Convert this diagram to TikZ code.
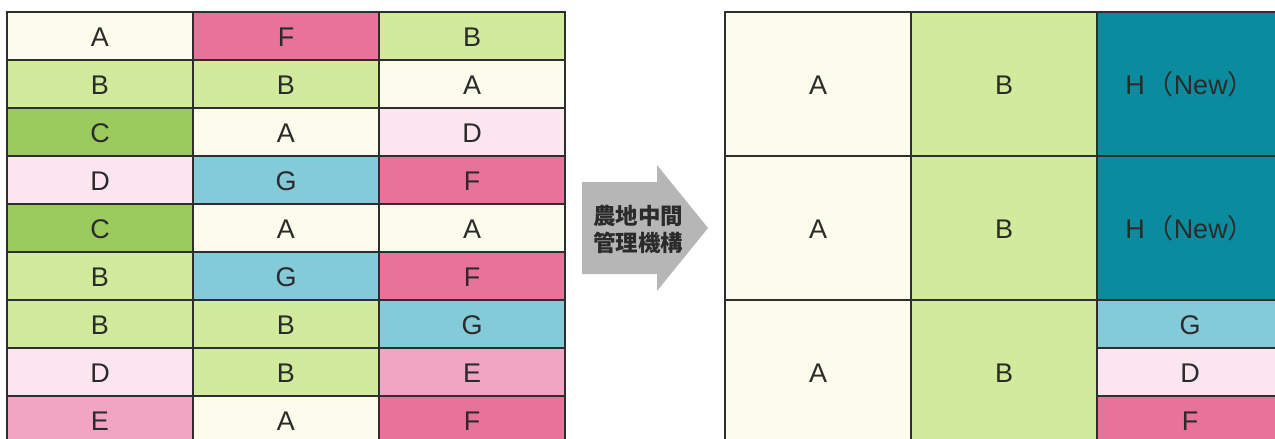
\documentclass[tikz,border=0pt]{standalone}
\usepackage{fontspec}
\setmainfont{Liberation Sans}
\newfontfamily\cjk{Noto Sans CJK JP}
\definecolor{cA}{HTML}{FBFCEC}
\definecolor{cB}{HTML}{D2EA9C}
\definecolor{cC}{HTML}{9ACB5C}
\definecolor{cD}{HTML}{FBE6F0}
\definecolor{cE}{HTML}{F2A5C3}
\definecolor{cF}{HTML}{E9729B}
\definecolor{cG}{HTML}{84CBD9}
\definecolor{cH}{HTML}{0A8C9E}
\definecolor{gridc}{HTML}{2E2E2E}
\definecolor{arrowc}{HTML}{B6B6B6}
\definecolor{txt}{HTML}{2B2B2B}
\begin{document}
\begin{tikzpicture}[x=1pt,y=-1pt,
  cell/.style={draw=gridc, line width=1.4pt, minimum width=186pt, minimum height=48pt,
    inner sep=0pt, outer sep=0pt, text=txt, text height=20pt, text depth=0pt,
    font=\fontsize{27}{27}\selectfont},
  bigcell/.style={cell, minimum height=144pt},
  arrowtext/.style={text=txt, align=center, inner sep=0pt,
    font=\cjk\bfseries\fontsize{22.5}{27}\selectfont}]
\useasboundingbox (0,0) rectangle (1275,439);
\clip (0,0) rectangle (1275,439);
% left grid
\node[cell, fill=cA] (L11) at (100,36) {A};
\node[cell, fill=cF] (L12) at (286,36) {F};
\node[cell, fill=cB] (L13) at (472,36) {B};
\node[cell, fill=cB] (L21) at (100,84) {B};
\node[cell, fill=cB] (L22) at (286,84) {B};
\node[cell, fill=cA] (L23) at (472,84) {A};
\node[cell, fill=cC] (L31) at (100,132) {C};
\node[cell, fill=cA] (L32) at (286,132) {A};
\node[cell, fill=cD] (L33) at (472,132) {D};
\node[cell, fill=cD] (L41) at (100,180) {D};
\node[cell, fill=cG] (L42) at (286,180) {G};
\node[cell, fill=cF] (L43) at (472,180) {F};
\node[cell, fill=cC] (L51) at (100,228) {C};
\node[cell, fill=cA] (L52) at (286,228) {A};
\node[cell, fill=cA] (L53) at (472,228) {A};
\node[cell, fill=cB] (L61) at (100,276) {B};
\node[cell, fill=cG] (L62) at (286,276) {G};
\node[cell, fill=cF] (L63) at (472,276) {F};
\node[cell, fill=cB] (L71) at (100,324) {B};
\node[cell, fill=cB] (L72) at (286,324) {B};
\node[cell, fill=cG] (L73) at (472,324) {G};
\node[cell, fill=cD] (L81) at (100,372) {D};
\node[cell, fill=cB] (L82) at (286,372) {B};
\node[cell, fill=cE] (L83) at (472,372) {E};
\node[cell, fill=cE] (L91) at (100,420) {E};
\node[cell, fill=cA] (L92) at (286,420) {A};
\node[cell, fill=cF] (L93) at (472,420) {F};
% arrow
\fill[arrowc] (582,182) -- (657,182) -- (657,165) -- (708,228) -- (657,291) -- (657,274) -- (582,274) -- cycle;
\node[arrowtext] (arrowlbl) at (638,229) {農地中間\\管理機構};
% right grid
\node[bigcell, fill=cA] (RA1) at (818,84) {A};
\node[bigcell, fill=cB] (RB1) at (1004,84) {B};
\node[bigcell, fill=cH] (RH1) at (1190,84) {H\hspace{2pt}{\cjk（}New{\cjk）}};
\node[bigcell, fill=cA] (RA2) at (818,228) {A};
\node[bigcell, fill=cB] (RB2) at (1004,228) {B};
\node[bigcell, fill=cH] (RH2) at (1190,228) {H\hspace{2pt}{\cjk（}New{\cjk）}};
\node[bigcell, fill=cA] (RA3) at (818,372) {A};
\node[bigcell, fill=cB] (RB3) at (1004,372) {B};
\node[cell, fill=cG] (RG) at (1190,324) {G};
\node[cell, fill=cD] (RD) at (1190,372) {D};
\node[cell, fill=cF] (RF) at (1190,420) {F};
\end{tikzpicture}
\end{document}
